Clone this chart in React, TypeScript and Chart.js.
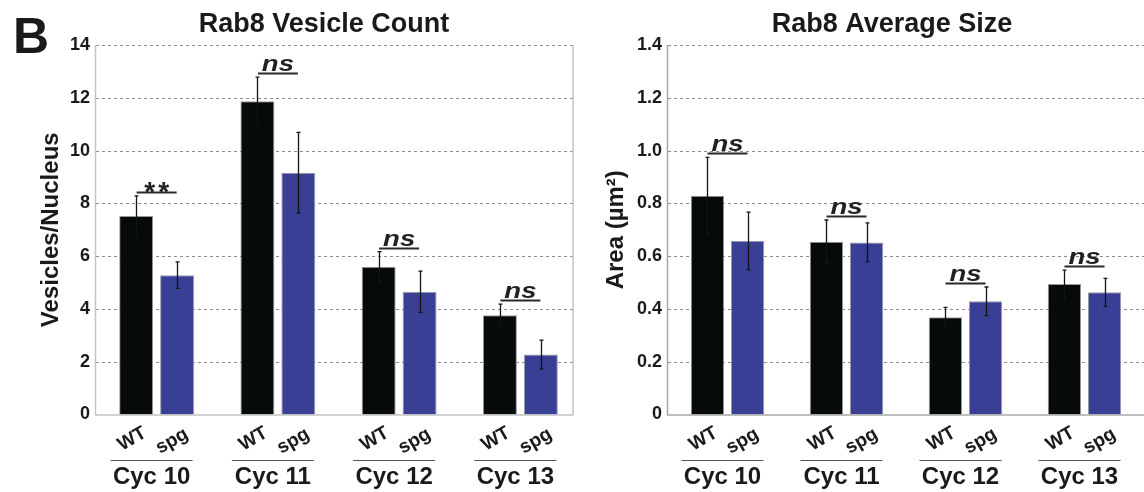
import React, { useEffect, useRef } from "react";
import { Chart, registerables } from "chart.js";

Chart.register(...registerables);

// ---------- data ----------
const cycles = ["Cyc 10", "Cyc 11", "Cyc 12", "Cyc 13"];
const genotypes = ["WT", "spg"];

const countWT = [7.52, 11.87, 5.6, 3.76];
const countWTErr = [0.76, 0.91, 0.57, 0.42];
const countSpg = [5.28, 9.16, 4.65, 2.27];
const countSpgErr = [0.5, 1.53, 0.78, 0.55];
const countSig = ["**", "ns", "ns", "ns"];
const countAxis = { min: 0, max: 14, step: 2 };

const sizeWT = [0.829, 0.655, 0.368, 0.494];
const sizeWTErr = [0.145, 0.082, 0.038, 0.053];
const sizeSpg = [0.658, 0.652, 0.429, 0.463];
const sizeSpgErr = [0.109, 0.074, 0.054, 0.053];
const sizeSig = ["ns", "ns", "ns", "ns"];
const sizeAxis = { min: 0, max: 1.4, step: 0.2 };

// ---------- styling ----------
const FONT = '"Liberation Sans", Arial, Helvetica, sans-serif';
const TEXT = "#1a1a1a";
const WT_COLOR = "#060a0a";
const SPG_COLOR = "#383f94";

const decorPlugin = {
  id: "decor",
  beforeDatasetsDraw(chart: any, _args: any, opts: any) {
    const { ctx, chartArea: ca, scales } = chart;
    const y = scales.y;
    const right = ca.right - (opts.rightInset || 0);
    ctx.save();
    // dashed gridlines
    ctx.strokeStyle = "#8c8c8c";
    ctx.lineWidth = 1;
    ctx.setLineDash([3, 3]);
    y.ticks.forEach((t: any) => {
      if (t.value === 0) return;
      const py = Math.round(y.getPixelForValue(t.value)) + 0.5;
      ctx.beginPath();
      ctx.moveTo(ca.left, py);
      ctx.lineTo(right, py);
      ctx.stroke();
    });
    ctx.setLineDash([]);
    // axes
    ctx.strokeStyle = "#a9a9a9";
    ctx.lineWidth = 1.5;
    ctx.beginPath();
    ctx.moveTo(ca.left - 0.5, ca.top);
    ctx.lineTo(ca.left - 0.5, ca.bottom + 0.5);
    ctx.lineTo(right, ca.bottom + 0.5);
    if (opts.drawRight) {
      ctx.strokeStyle = "#c4c4c4";
      ctx.lineTo(right, ca.top);
    }
    ctx.stroke();
    ctx.restore();
  },
  afterDatasetsDraw(chart: any, _args: any, opts: any) {
    const { ctx, scales } = chart;
    const y = scales.y;
    ctx.save();
    // error bars
    const errs = [opts.errWT, opts.errSpg];
    const tops: number[] = [];
    [0, 1].forEach((d) => {
      const meta = chart.getDatasetMeta(d);
      const vals = chart.data.datasets[d].data as number[];
      meta.data.forEach((bar: any, i: number) => {
        const v = vals[i];
        const e = errs[d][i];
        const yt = y.getPixelForValue(v + e);
        const yb = y.getPixelForValue(v - e);
        const x = Math.round(bar.x) + 0.5;
        ctx.strokeStyle = "#141414";
        ctx.lineWidth = 1.3;
        ctx.beginPath();
        ctx.moveTo(x, yt);
        ctx.lineTo(x, yb);
        ctx.moveTo(x - 2, yt);
        ctx.lineTo(x + 2, yt);
        ctx.moveTo(x - 2, yb);
        ctx.lineTo(x + 2, yb);
        ctx.stroke();
        tops[i] = tops[i] === undefined ? yt : Math.min(tops[i], yt);
      });
    });
    // significance marks
    const x = scales.x;
    opts.sig.forEach((s: string, i: number) => {
      const cx = x.getPixelForValue(i);
      const ly = Math.round(tops[i] - 4) + 0.5;
      ctx.strokeStyle = "#2a2a2a";
      ctx.lineWidth = 2;
      ctx.beginPath();
      ctx.moveTo(cx - 20, ly);
      ctx.lineTo(cx + 20, ly);
      ctx.stroke();
      ctx.fillStyle = "#222";
      ctx.textBaseline = "alphabetic";
      ctx.textAlign = "center";
      if (s === "ns") {
        ctx.save();
        ctx.translate(cx, ly - 3);
        ctx.scale(1.25, 1);
        ctx.font = `italic bold 22px ${FONT}`;
        ctx.fillText(s, 0, 0);
        ctx.restore();
      } else {
        ctx.font = `bold 28px ${FONT}`;
        ctx.fillText("*", cx - 7, ly + 8);
        ctx.fillText("*", cx + 7, ly + 8);
      }
    });
    ctx.restore();
  },
  afterDraw(chart: any, _args: any, opts: any) {
    const { ctx, scales } = chart;
    ctx.save();
    ctx.fillStyle = TEXT;
    // title
    ctx.font = `bold 27px ${FONT}`;
    ctx.textAlign = "center";
    ctx.textBaseline = "alphabetic";
    ctx.fillText(opts.title, opts.titleX, 32);
    if (opts.letter) {
      ctx.font = `bold 50px ${FONT}`;
      ctx.textAlign = "left";
      ctx.fillText(opts.letter, 13, 53);
    }
    // genotype labels
    ctx.font = `bold 19px ${FONT}`;
    [0, 1].forEach((d) => {
      const meta = chart.getDatasetMeta(d);
      meta.data.forEach((bar: any) => {
        ctx.save();
        ctx.translate(bar.x - (d === 0 ? 4 : 5), d === 0 ? 439 : 441);
        ctx.rotate((-30 * Math.PI) / 180);
        ctx.textAlign = "center";
        ctx.textBaseline = "middle";
        ctx.fillText(genotypes[d], 0, 0);
        ctx.restore();
      });
    });
    // cycle labels
    const x = scales.x;
    cycles.forEach((c, i) => {
      const gx = x.getPixelForValue(i) - 5;
      ctx.strokeStyle = "#555";
      ctx.lineWidth = 1;
      ctx.beginPath();
      ctx.moveTo(gx - 41, 460.5);
      ctx.lineTo(gx + 41, 460.5);
      ctx.stroke();
      ctx.font = `bold 24px ${FONT}`;
      ctx.textAlign = "center";
      ctx.textBaseline = "alphabetic";
      ctx.fillText(c, gx, 484);
    });
    ctx.restore();
  },
};

function makeConfig(p: {
  wt: number[];
  spg: number[];
  errWT: number[];
  errSpg: number[];
  sig: string[];
  axis: { min: number; max: number; step: number };
  yTitle: string;
  yTitlePad: number;
  yWidth: number;
  padRight: number;
  rightInset: number;
  drawRight: boolean;
  title: string;
  titleX: number;
  letter?: string;
  fmt: (v: number) => string;
}): any {
  return {
    type: "bar",
    data: {
      labels: cycles,
      datasets: [
        {
          label: genotypes[0],
          data: p.wt,
          backgroundColor: WT_COLOR,
          borderColor: "#9a9a9a",
          borderWidth: 1,
        },
        {
          label: genotypes[1],
          data: p.spg,
          backgroundColor: SPG_COLOR,
          borderColor: "#9a9aa8",
          borderWidth: 1,
        },
      ],
    },
    options: {
      responsive: false,
      maintainAspectRatio: false,
      animation: false,
      layout: { padding: { top: 45, right: p.padRight, left: 0, bottom: 0 } },
      datasets: { bar: { categoryPercentage: 0.675, barPercentage: 0.83 } },
      plugins: {
        legend: { display: false },
        tooltip: { enabled: false },
        title: { display: false },
        decor: {
          errWT: p.errWT,
          errSpg: p.errSpg,
          sig: p.sig,
          rightInset: p.rightInset,
          drawRight: p.drawRight,
          title: p.title,
          titleX: p.titleX,
          letter: p.letter,
        },
      },
      scales: {
        x: {
          grid: { display: false, drawTicks: false },
          border: { display: false },
          ticks: { display: false },
          afterFit: (s: any) => {
            s.height = 77.5;
          },
        },
        y: {
          min: p.axis.min,
          max: p.axis.max,
          grid: { display: false, drawTicks: false },
          border: { display: false },
          ticks: {
            stepSize: p.axis.step,
            padding: 6,
            color: TEXT,
            font: { family: FONT, size: 18, weight: "bold" },
            callback: (v: any) => p.fmt(Number(v)),
          },
          title: {
            display: true,
            text: p.yTitle,
            color: TEXT,
            font: { family: FONT, size: 24, weight: "bold", lineHeight: 1.2 },
            padding: { top: p.yTitlePad, bottom: 0 },
          },
          afterFit: (s: any) => {
            s.width = p.yWidth;
          },
        },
      },
    },
    plugins: [decorPlugin],
  };
}

function ChartCanvas({ left, width, config }: { left: number; width: number; config: () => any }) {
  const ref = useRef<HTMLCanvasElement | null>(null);
  useEffect(() => {
    const chart = new Chart(ref.current as HTMLCanvasElement, config());
    return () => chart.destroy();
  }, []);
  return (
    <canvas
      ref={ref}
      width={width}
      height={492}
      style={{ position: "absolute", left, top: 0, width, height: 492 }}
    />
  );
}

export default function App() {
  return (
    <div
      style={{
        position: "fixed",
        left: 0,
        top: 0,
        width: 1144,
        height: 492,
        background: "#ffffff",
        overflow: "hidden",
      }}
    >
      <ChartCanvas
        left={0}
        width={590}
        config={() =>
          makeConfig({
            wt: countWT,
            spg: countSpg,
            errWT: countWTErr,
            errSpg: countSpgErr,
            sig: countSig,
            axis: countAxis,
            yTitle: "Vesicles/Nucleus",
            yTitlePad: 37,
            yWidth: 96,
            padRight: 9,
            rightInset: 8,
            drawRight: true,
            title: "Rab8 Vesicle Count",
            titleX: 324,
            letter: "B",
            fmt: (v) => String(Math.round(v)),
          })
        }
      />
      <ChartCanvas
        left={590}
        width={554}
        config={() =>
          makeConfig({
            wt: sizeWT,
            spg: sizeSpg,
            errWT: sizeWTErr,
            errSpg: sizeSpgErr,
            sig: sizeSig,
            axis: sizeAxis,
            yTitle: "Area (µm²)",
            yTitlePad: 12,
            yWidth: 78,
            padRight: 0,
            rightInset: 0,
            drawRight: false,
            title: "Rab8 Average Size",
            titleX: 302,
            fmt: (v) => (Math.abs(v) < 1e-9 ? "0" : v.toFixed(1)),
          })
        }
      />
    </div>
  );
}
